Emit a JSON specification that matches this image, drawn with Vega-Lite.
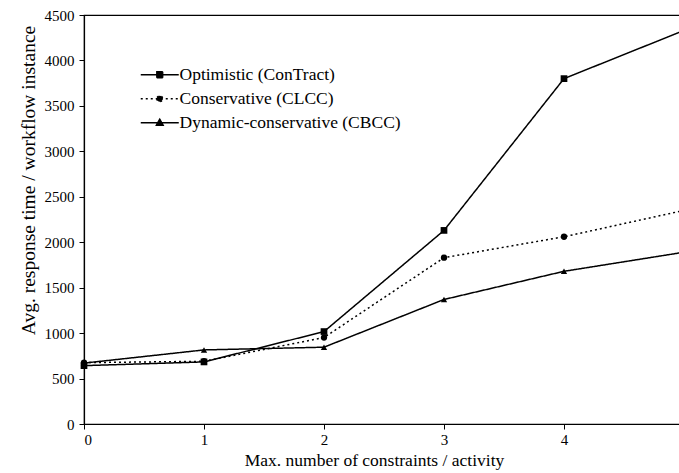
{
  "$schema": "https://vega.github.io/schema/vega-lite/v6.json",
  "autosize": {"type": "none"},
  "padding": {"left": 84, "top": 15, "right": 10, "bottom": 49},
  "width": 600,
  "height": 409,
  "background": "white",
  "config": {
    "font": "Liberation Serif",
    "view": {"stroke": "black", "strokeWidth": 1.2},
    "axis": {
      "labelFont": "Liberation Serif",
      "titleFont": "Liberation Serif",
      "labelFontSize": 15,
      "titleFontSize": 19.5,
      "labelColor": "black",
      "titleColor": "black",
      "titleFontWeight": "normal",
      "domainColor": "black",
      "tickColor": "black",
      "domainWidth": 1.2,
      "tickSize": 5,
      "grid": false
    }
  },
  "data": {
    "values": [
      {"x": 0, "y": 642, "series": "Optimistic (ConTract)"},
      {"x": 1, "y": 683, "series": "Optimistic (ConTract)"},
      {"x": 2, "y": 1017, "series": "Optimistic (ConTract)"},
      {"x": 3, "y": 2130, "series": "Optimistic (ConTract)"},
      {"x": 4, "y": 3800, "series": "Optimistic (ConTract)"},
      {"x": 5, "y": 4330, "series": "Optimistic (ConTract)"},
      {"x": 0, "y": 675, "series": "Conservative (CLCC)"},
      {"x": 1, "y": 690, "series": "Conservative (CLCC)"},
      {"x": 2, "y": 951, "series": "Conservative (CLCC)"},
      {"x": 3, "y": 1830, "series": "Conservative (CLCC)"},
      {"x": 4, "y": 2060, "series": "Conservative (CLCC)"},
      {"x": 5, "y": 2350, "series": "Conservative (CLCC)"},
      {"x": 0, "y": 670, "series": "Dynamic-conservative (CBCC)"},
      {"x": 1, "y": 815, "series": "Dynamic-conservative (CBCC)"},
      {"x": 2, "y": 845, "series": "Dynamic-conservative (CBCC)"},
      {"x": 3, "y": 1370, "series": "Dynamic-conservative (CBCC)"},
      {"x": 4, "y": 1680, "series": "Dynamic-conservative (CBCC)"},
      {"x": 5, "y": 1890, "series": "Dynamic-conservative (CBCC)"}
    ]
  },
  "encoding": {
    "x": {
      "field": "x", "type": "quantitative",
      "scale": {"domain": [0, 5], "nice": false, "zero": false},
      "axis": {
        "values": [0, 1, 2, 3, 4],
        "labelPadding": 3,
        "title": "Max. number of constraints / activity",
        "titleFontSize": 17.5,
        "titleX": 290, "titleY": 36, "titleBaseline": "middle", "titleAlign": "center"
      }
    },
    "y": {
      "field": "y", "type": "quantitative",
      "scale": {"domain": [0, 4500], "nice": false},
      "axis": {
        "values": [0, 500, 1000, 1500, 2000, 2500, 3000, 3500, 4000, 4500],
        "format": "d",
        "labelPadding": 5,
        "title": "Avg. response time / workflow instance",
        "titleAngle": -90, "titleX": -56, "titleY": 165, "titleBaseline": "middle", "titleAlign": "center"
      }
    }
  },
  "layer": [
    {
      "mark": {"type": "line", "color": "black", "strokeWidth": 1.5},
      "encoding": {
        "strokeDash": {
          "field": "series", "type": "nominal",
          "scale": {
            "domain": ["Optimistic (ConTract)", "Conservative (CLCC)", "Dynamic-conservative (CBCC)"],
            "range": [[1, 0], [2, 3], [1, 0]]
          },
          "legend": {
            "title": null,
            "orient": "none",
            "legendX": 53,
            "legendY": 51,
            "padding": 0,
            "labelFont": "Liberation Serif",
            "labelFontSize": 17.5,
            "labelColor": "black",
            "labelLimit": 400,
            "labelOffset": 25,
            "rowPadding": 5,
            "symbolSize": 100,
            "symbolStrokeWidth": 1.3,
            "symbolStrokeColor": "black",
            "symbolFillColor": "black",
            "encode": {
              "symbols": {
                "update": {
                  "shape": {"signal": "datum.value === 'Optimistic (ConTract)' ? 'M-1,0H6.6M2.2,-0.6H3.4V0.6H2.2Z' : datum.value === 'Conservative (CLCC)' ? 'M-1,0H6.6M2.2,0A0.6,0.6 0 1,0 3.4,0A0.6,0.6 0 1,0 2.2,0Z' : 'M-1,0H6.6M2.8,-0.75L3.5,0.5H2.1Z'"},
                  "fill": {"value": "black"},
                  "stroke": {"value": "black"},
                  "size": {"value": 100}
                }
              }
            }
          }
        }
      }
    },
    {
      "transform": [{"filter": "datum.series === 'Optimistic (ConTract)'"}],
      "mark": {"type": "point", "filled": true, "color": "black", "size": 45, "opacity": 1, "shape": "square"}
    },
    {
      "transform": [{"filter": "datum.series === 'Conservative (CLCC)'"}],
      "mark": {"type": "point", "filled": true, "color": "black", "size": 40, "opacity": 1, "shape": "circle"}
    },
    {
      "transform": [{"filter": "datum.series === 'Dynamic-conservative (CBCC)'"}],
      "mark": {"type": "point", "filled": true, "color": "black", "size": 40, "opacity": 1, "shape": "triangle-up"}
    }
  ]
}
